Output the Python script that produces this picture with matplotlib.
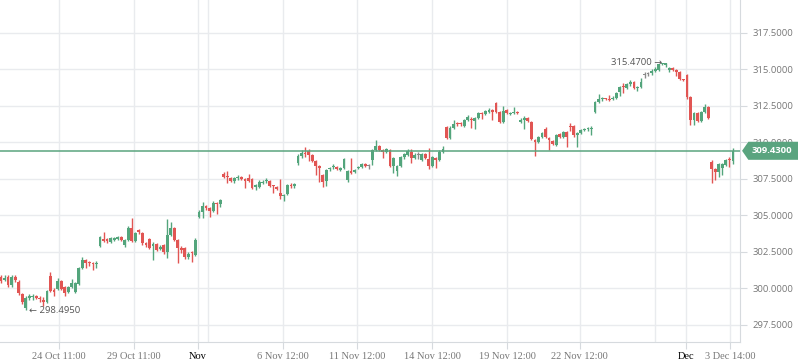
import numpy as np
import matplotlib
matplotlib.use("Agg")
import matplotlib.pyplot as plt
import matplotlib.transforms as mtransforms
from matplotlib.patches import Polygon

# hourly candles (weekend gaps already squeezed out)
opens = [
    300.79, 300.60, 300.79, 300.24, 300.79, 300.44, 299.62, 298.66, 299.35, 299.40,
    299.49, 299.30, 299.21, 299.07, 300.85, 299.90, 299.97, 300.51, 300.10, 299.76,
    300.10, 299.76, 300.31, 301.40, 301.95, 301.80, 301.75, 301.65, 302.91, 303.38,
    303.38, 303.18, 303.32, 303.40, 303.50, 302.98, 303.32, 304.14, 303.25, 304.01,
    303.80, 303.11, 303.39, 302.91, 303.05, 302.70, 302.98, 302.50, 303.66, 304.14,
    303.32, 302.77, 302.77, 302.16, 302.45, 302.30, 304.90, 305.24, 305.65, 305.51,
    305.31, 305.85, 305.80, 307.84, 307.70, 307.57, 307.36, 307.55, 307.64, 307.50,
    307.57, 307.50, 306.95, 306.95, 307.25, 307.36, 307.36, 307.05, 306.95, 306.54,
    306.33, 306.47, 307.09, 307.02, 308.60, 309.08, 309.25, 309.42, 309.14, 308.73,
    308.39, 307.77, 307.36, 308.19, 308.30, 308.32, 308.12, 308.25, 307.43, 308.05,
    307.98, 308.25, 308.32, 308.53, 308.40, 308.80, 309.49, 309.76, 309.49, 309.35,
    309.49, 308.39, 308.05, 308.39, 309.00, 309.14, 309.35, 308.94, 309.14, 308.80,
    309.21, 308.87, 308.39, 308.94, 308.80, 309.35, 311.06, 310.31, 311.00, 311.30,
    311.30, 311.13, 311.54, 311.58, 311.47, 311.68, 311.98, 311.95, 312.09, 312.23,
    312.70, 312.09, 311.40, 312.23, 311.95, 312.02, 312.09, 311.40, 311.54, 311.68,
    311.40, 310.17, 310.03, 310.38, 310.92, 310.31, 310.10, 309.83, 310.58, 310.38,
    310.72, 311.10, 311.13, 310.51, 310.65, 310.88, 310.90, 310.95, 312.09, 312.77,
    312.95, 313.00, 312.98, 313.00, 313.05, 313.45, 313.83, 313.73, 314.00, 314.14,
    313.70, 313.80, 314.62, 314.69, 314.76, 314.90, 314.96, 315.37, 315.30, 314.96,
    315.10, 314.96, 314.82, 314.30, 314.62, 313.11, 311.54, 312.02, 311.47, 312.09,
    312.43, 308.66, 308.19, 307.98, 308.25, 308.46, 308.87, 308.73,
]
highs = [
    300.95, 300.90, 300.95, 300.90, 300.92, 300.55, 299.70, 299.45, 299.62, 299.60,
    299.55, 299.45, 299.40, 299.90, 301.15, 300.00, 300.72, 300.60, 300.20, 300.15,
    300.65, 300.45, 301.50, 302.15, 302.05, 301.90, 301.80, 301.90, 303.60, 303.85,
    303.45, 303.50, 303.55, 303.60, 303.60, 303.40, 304.30, 304.82, 303.90, 304.10,
    303.90, 303.20, 303.45, 303.15, 303.10, 302.95, 303.05, 304.76, 304.55, 304.20,
    303.40, 302.90, 302.85, 302.50, 302.55, 303.45, 305.35, 305.90, 305.70, 305.55,
    306.00, 305.90, 306.15, 308.00, 308.05, 307.65, 307.65, 307.75, 307.70, 307.55,
    307.85, 307.55, 307.15, 307.40, 307.45, 307.55, 307.45, 307.10, 307.05, 307.50,
    306.50, 307.15, 307.20, 307.25, 309.20, 309.45, 309.70, 309.55, 309.20, 308.80,
    308.45, 307.85, 308.20, 308.30, 308.50, 308.40, 308.35, 308.95, 308.10, 308.94,
    308.20, 308.40, 308.60, 308.60, 308.55, 309.55, 310.20, 309.85, 309.55, 309.65,
    309.55, 309.00, 308.45, 309.10, 309.30, 309.55, 309.55, 309.25, 309.35, 309.30,
    309.30, 309.60, 309.10, 309.00, 309.45, 309.75, 311.15, 311.10, 311.55, 311.40,
    311.40, 311.60, 311.85, 311.75, 311.75, 312.10, 312.10, 312.25, 312.35, 312.30,
    312.75, 312.15, 312.50, 312.30, 312.10, 312.45, 312.15, 311.65, 311.80, 311.75,
    311.50, 310.25, 310.45, 310.75, 311.05, 310.40, 310.20, 310.60, 310.65, 310.80,
    310.80, 311.35, 311.20, 310.72, 310.95, 311.00, 311.05, 311.15, 312.85, 313.30,
    313.10, 313.05, 313.25, 313.15, 313.45, 313.90, 314.10, 314.10, 314.25, 314.20,
    313.85, 314.40, 314.80, 314.85, 315.00, 315.15, 315.40, 315.47, 315.45, 315.20,
    315.15, 315.00, 314.90, 314.35, 314.70, 313.15, 312.10, 312.10, 312.15, 312.65,
    312.50, 308.80, 308.25, 308.60, 308.60, 308.85, 309.00, 309.60,
]
lows = [
    300.35, 300.50, 300.10, 300.10, 300.45, 299.55, 298.90, 298.495, 299.20, 299.20,
    299.25, 299.05, 298.80, 299.00, 299.75, 299.49, 299.90, 299.90, 299.49, 299.70,
    300.05, 299.70, 300.25, 301.35, 301.40, 301.55, 301.27, 301.40, 302.85, 303.18,
    303.11, 303.10, 303.25, 303.30, 303.25, 302.85, 303.25, 303.15, 303.15, 303.75,
    303.00, 302.85, 302.70, 301.95, 302.55, 302.60, 302.35, 302.10, 303.60, 303.25,
    301.75, 302.45, 302.05, 302.05, 301.80, 302.20, 304.80, 304.80, 305.40, 304.90,
    305.25, 305.10, 305.55, 307.55, 307.20, 307.30, 307.20, 307.45, 307.40, 306.85,
    307.30, 306.80, 306.75, 306.85, 307.15, 307.20, 306.95, 306.55, 306.75, 306.13,
    306.00, 306.40, 306.90, 306.90, 308.45, 308.95, 309.00, 308.70, 308.65, 307.80,
    307.30, 306.95, 307.02, 308.05, 308.20, 308.10, 308.05, 308.20, 307.30, 307.85,
    307.90, 308.15, 308.25, 308.30, 308.20, 308.45, 309.40, 309.40, 308.95, 309.30,
    308.30, 307.90, 307.70, 308.30, 308.90, 309.05, 308.60, 308.85, 308.90, 308.70,
    308.85, 308.15, 308.30, 308.25, 308.70, 309.30, 310.25, 310.25, 310.95, 311.15,
    311.15, 311.05, 311.45, 311.00, 310.95, 311.60, 311.60, 311.90, 312.00, 311.55,
    312.00, 311.35, 311.35, 311.95, 311.85, 311.95, 311.95, 311.30, 310.90, 311.40,
    310.15, 309.07, 309.95, 310.30, 310.30, 309.50, 309.80, 309.75, 310.30, 310.30,
    309.70, 310.80, 310.40, 309.70, 310.60, 310.80, 310.80, 310.50, 312.00, 312.70,
    312.85, 312.90, 312.85, 312.90, 312.95, 313.15, 313.40, 313.65, 313.90, 313.65,
    313.55, 313.70, 314.45, 314.55, 314.65, 314.85, 314.90, 315.30, 315.20, 314.85,
    314.90, 314.55, 314.25, 314.20, 313.00, 311.20, 311.20, 311.40, 311.40, 312.00,
    311.60, 307.22, 307.40, 307.60, 307.80, 308.40, 308.35, 308.50,
]
closes = [
    300.51, 300.72, 300.24, 300.79, 300.58, 299.69, 299.07, 299.35, 299.49, 299.45,
    299.35, 299.25, 299.07, 299.83, 299.83, 299.76, 300.51, 299.97, 299.69, 300.10,
    300.38, 300.38, 301.40, 301.95, 301.75, 301.74, 301.65, 301.72, 303.52, 303.25,
    303.25, 303.45, 303.45, 303.52, 303.35, 303.32, 304.14, 303.25, 303.80, 303.87,
    303.11, 302.98, 302.77, 303.05, 302.64, 302.84, 302.50, 303.66, 304.14, 303.32,
    302.77, 302.64, 302.16, 302.36, 302.40, 303.32, 305.24, 305.65, 305.51, 305.31,
    305.85, 305.80, 306.06, 307.64, 307.64, 307.36, 307.57, 307.64, 307.50, 307.36,
    307.36, 306.88, 307.09, 307.30, 307.30, 307.43, 307.02, 307.00, 306.82, 306.33,
    306.40, 307.09, 307.05, 307.16, 309.08, 309.28, 309.20, 309.14, 308.73, 308.39,
    308.25, 307.30, 308.12, 308.25, 308.35, 308.19, 308.25, 308.87, 308.05, 307.91,
    308.12, 308.32, 308.53, 308.39, 308.40, 309.49, 309.76, 309.49, 309.35, 309.55,
    308.39, 308.93, 308.39, 309.00, 309.21, 309.42, 308.94, 309.14, 309.14, 309.21,
    308.94, 308.39, 309.00, 308.80, 309.35, 309.55, 310.31, 311.00, 311.27, 311.25,
    311.24, 311.54, 311.75, 311.52, 311.68, 312.02, 311.94, 312.16, 312.23, 312.09,
    312.09, 311.40, 312.16, 312.02, 312.00, 312.09, 312.02, 311.54, 311.68, 311.47,
    310.24, 310.03, 310.38, 310.65, 310.38, 310.17, 309.90, 310.51, 310.38, 310.72,
    310.38, 311.05, 310.51, 310.65, 310.86, 310.93, 310.93, 311.00, 312.77, 312.98,
    313.00, 312.95, 312.93, 313.05, 313.39, 313.80, 313.78, 314.00, 314.14, 313.73,
    313.75, 314.14, 314.62, 314.69, 314.90, 315.03, 315.37, 315.47, 315.42, 315.10,
    314.96, 314.82, 314.35, 314.28, 313.11, 311.54, 312.02, 311.47, 312.09, 312.43,
    311.68, 308.19, 307.98, 308.53, 308.53, 308.80, 308.80, 309.43,
]

y_ticks = [297.5, 300.0, 302.5, 305.0, 307.5, 310.0, 312.5, 315.0, 317.5]
# tick positions in bar units
x_tick_pos = [16.4, 37.6, 55.7, 79.75, 100.7, 121.9, 143.1, 163.7, 193.7, 206.2]
x_tick_labels = ["24 Oct 11:00", "29 Oct 11:00", "Nov", "6 Nov 12:00", "11 Nov 12:00",
                 "14 Nov 12:00", "19 Nov 12:00", "22 Nov 12:00", "Dec", "3 Dec 14:00"]
extra_grid = [58.5, 185.0]

high_label = 315.47
low_label = 298.495
last_price = closes[-1]

GREEN = "#53a57c"
RED = "#e15553"
GREY = "#8a8a8a"
GRID = "#e9ebee"
AXIS = "#d6dade"
SANS = ["Open Sans", "DejaVu Sans"]

o = np.array(opens)
h = np.array(highs)
l = np.array(lows)
c = np.array(closes)
x = np.arange(len(o))

cols = np.where(c > o, GREEN, np.where(c < o, RED, GREY))

fig = plt.figure(figsize=(7.98, 3.63), dpi=100)
ax = fig.add_axes([0, 21 / 363, 740 / 798, 342 / 363])

ax.vlines(x, l, h, colors=cols, lw=1, zorder=3)
body_lo = np.minimum(o, c)
body_h = np.maximum(np.abs(c - o), 0.07)
ax.bar(x, body_h, bottom=body_lo, width=0.8, color=cols, linewidth=0, zorder=4)

ax.axhline(last_price, color="#5aa47f", lw=1.1, zorder=5)

ax.set_xlim(-0.28, 209.0)
ax.set_ylim(296.33, 319.76)

ax.yaxis.tick_right()
ax.set_yticks(y_ticks)
ax.set_yticklabels([f"{v:.4f}" for v in y_ticks])
ax.set_xticks(x_tick_pos)
ax.set_xticklabels(x_tick_labels)
ax.grid(True, color=GRID, lw=1, zorder=0)
for xv in extra_grid:
    ax.axvline(xv, color=GRID, lw=1, zorder=0)
ax.set_axisbelow(True)

for s in ["left", "top"]:
    ax.spines[s].set_visible(False)
for s in ["right", "bottom"]:
    ax.spines[s].set_color(AXIS)
ax.tick_params(axis="y", length=5, color=AXIS, labelcolor="#777777", labelsize=6.8, pad=4)
ax.tick_params(axis="x", length=5, color=AXIS, labelcolor="#777777", labelsize=7.5, pad=2)
for t in ax.get_yticklabels():
    t.set_fontfamily(SANS)
for t in ax.get_xticklabels():
    t.set_fontfamily("Liberation Serif")
    if t.get_text() in ("Nov", "Dec"):
        t.set_color("black")

# high / low markers
i_hi = int(np.argmax(h))
i_lo = int(np.argmin(l))
ax.annotate(f"{high_label:.4f} \u2192", xy=(i_hi, high_label), xytext=(0, 0),
            textcoords="offset points", ha="right", va="center",
            fontsize=6.8, color="#555555", family=SANS, zorder=6)
ax.annotate(f"\u2190 {low_label:.4f}", xy=(i_lo, low_label), xytext=(2, 0),
            textcoords="offset points", ha="left", va="center",
            fontsize=6.8, color="#555555", family=SANS, zorder=6)

# last price tag on the right axis
anchor = mtransforms.blended_transform_factory(ax.transAxes, ax.transData)
tag_tr = mtransforms.Affine2D().scale(fig.dpi / 72) + mtransforms.ScaledTranslation(1, last_price, anchor)
tag = Polygon([(1.5, 0), (6, 6.5), (60, 6.5), (60, -6.5), (6, -6.5)], closed=True,
              transform=tag_tr, facecolor="#5aa47f", edgecolor="none", clip_on=False, zorder=7)
ax.add_patch(tag)
ax.annotate(f"{last_price:.4f}", xy=(1, last_price), xycoords=anchor, xytext=(8, 0),
            textcoords="offset points", ha="left", va="center", fontsize=6.8,
            color="white", fontweight="bold", family=SANS, zorder=8,
            annotation_clip=False)

fig.savefig("out.png", dpi=100)
